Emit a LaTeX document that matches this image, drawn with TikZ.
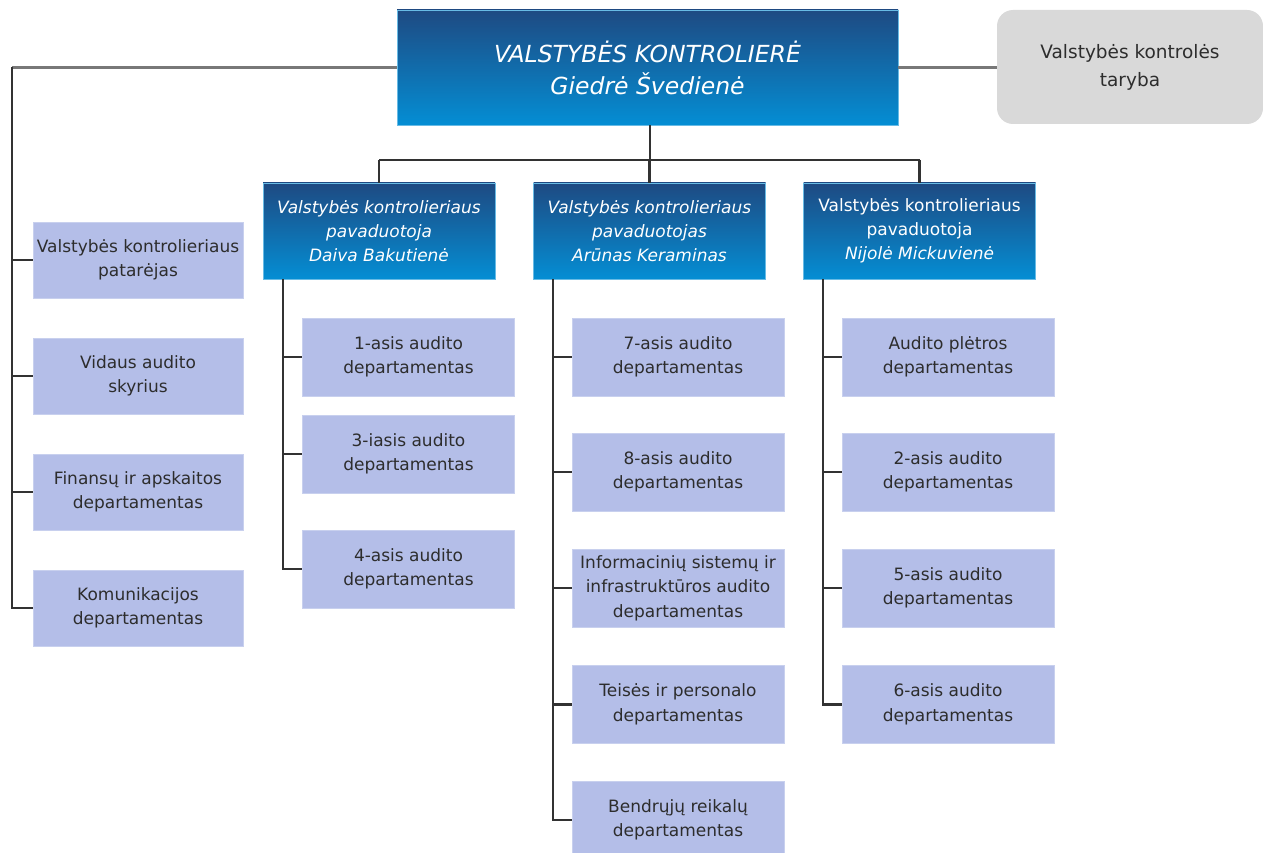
\documentclass[tikz,border=0pt]{standalone}
\usepackage{fontspec}
\setmainfont{DejaVu Sans}
\definecolor{topc}{RGB}{30,74,130}
\definecolor{botc}{RGB}{4,142,212}
\definecolor{deptc}{RGB}{180,190,232}
\definecolor{deptedge}{RGB}{200,208,238}
\definecolor{txtc}{RGB}{45,45,45}
\definecolor{councilc}{RGB}{217,217,217}
\definecolor{lineg}{RGB}{120,120,120}
\definecolor{lined}{RGB}{50,50,50}
\tikzset{
  chief/.style={draw=botc!60!white, line width=0.8pt, top color=topc, bottom color=botc, text=white, align=center, inner sep=0pt},
  dept/.style={draw=deptedge, line width=1pt, fill=deptc, text=txtc, align=center, inner sep=0pt,
    minimum width=212, minimum height=78, font=\fontsize{17}{24.5}\selectfont},
  council/.style={fill=councilc, rounded corners=16pt, text=txtc, align=center, inner sep=0pt,
    minimum width=266, minimum height=114, font=\fontsize{18.5}{28}\selectfont},
  deputy/.style={chief, minimum width=232, minimum height=96, font=\fontsize{17}{24}\selectfont\itshape},
  conn/.style={draw=lined, line width=2.2pt},
  connt/.style={draw=lineg, line width=2.2pt}
}
\begin{document}
\begin{tikzpicture}[x=1pt,y=-1pt]
\useasboundingbox (0,0) rectangle (1263,853);
% top
\node[chief, minimum width=501, minimum height=115, font=\fontsize{23.5}{32}\selectfont\itshape] (top) at (647.5,67.5)
  {VALSTYBĖS KONTROLIERĖ\\Giedrė Švedienė};
\node[council] (cnc) at (1130,67) {Valstybės kontrolės\\taryba};
% deputies
\node[deputy] (d1) at (379,231) {Valstybės kontrolieriaus\\pavaduotoja\\Daiva Bakutienė};
\node[deputy] (d2) at (649.5,231) {Valstybės kontrolieriaus\\pavaduotojas\\Arūnas Keraminas};
\node[deputy, font=\fontsize{17}{24}\selectfont] (d3) at (919.5,231) {Valstybės kontrolieriaus\\pavaduotoja\\\textit{Nijolė Mickuvienė}};
% left column
\node[dept, minimum width=210, minimum height=76] (l1) at (138,260) {Valstybės kontrolieriaus\\patarėjas};
\node[dept, minimum width=210, minimum height=76] (l2) at (138,376) {Vidaus audito\\skyrius};
\node[dept, minimum width=210, minimum height=76] (l3) at (138,492) {Finansų ir apskaitos\\departamentas};
\node[dept, minimum width=210, minimum height=76] (l4) at (138,608) {Komunikacijos\\departamentas};
% deputy 1
\node[dept] (a1) at (408.5,357) {1-asis audito\\departamentas};
\node[dept] (a2) at (408.5,454) {3-iasis audito\\departamentas};
\node[dept] (a3) at (408.5,569) {4-asis audito\\departamentas};
% deputy 2
\node[dept] (b1) at (678,357) {7-asis audito\\departamentas};
\node[dept] (b2) at (678,472) {8-asis audito\\departamentas};
\node[dept] (b3) at (678,588) {Informacinių sistemų ir\\infrastruktūros audito\\departamentas};
\node[dept] (b4) at (678,704.5) {Teisės ir personalo\\departamentas};
\node[dept] (b5) at (678,820) {Bendrųjų reikalų\\departamentas};
% deputy 3
\node[dept] (c1) at (948,357) {Audito plėtros\\departamentas};
\node[dept] (c2) at (948,472) {2-asis audito\\departamentas};
\node[dept] (c3) at (948,588) {5-asis audito\\departamentas};
\node[dept] (c4) at (948,704.5) {6-asis audito\\departamentas};
% connectors top
\coordinate (ls) at (12,67.5);
\draw[connt] (top.west) -- (ls);
\draw[conn] (ls) |- (l4.west);
\draw[conn] (ls |- l1.west) -- (l1.west);
\draw[conn] (ls |- l2.west) -- (l2.west);
\draw[conn] (ls |- l3.west) -- (l3.west);
\draw[connt] (top.east) -- (top.east -| cnc.west);
\coordinate (bus) at (650,160);
\draw[conn] (top.south -| bus) -- (bus);
\draw[conn] (bus -| d1.north) -- (bus -| d3.north);
\draw[conn] (bus -| d1.north) -- (d1.north);
\draw[conn] (bus -| d2.north) -- (d2.north);
\draw[conn] (bus -| d3.north) -- (d3.north);
% deputy spines
\coordinate (s1) at (283,279);
\coordinate (s2) at (553,279);
\coordinate (s3) at (823,279);
\draw[conn] (s1) |- (a3.west);
\draw[conn] (s1 |- a1.west) -- (a1.west);
\draw[conn] (s1 |- a2.west) -- (a2.west);
\draw[conn] (s2) |- (b5.west);
\draw[conn] (s2 |- b1.west) -- (b1.west);
\draw[conn] (s2 |- b2.west) -- (b2.west);
\draw[conn] (s2 |- b3.west) -- (b3.west);
\draw[conn] (s2 |- b4.west) -- (b4.west);
\draw[conn] (s3) |- (c4.west);
\draw[conn] (s3 |- c1.west) -- (c1.west);
\draw[conn] (s3 |- c2.west) -- (c2.west);
\draw[conn] (s3 |- c3.west) -- (c3.west);
\end{tikzpicture}
\end{document}
